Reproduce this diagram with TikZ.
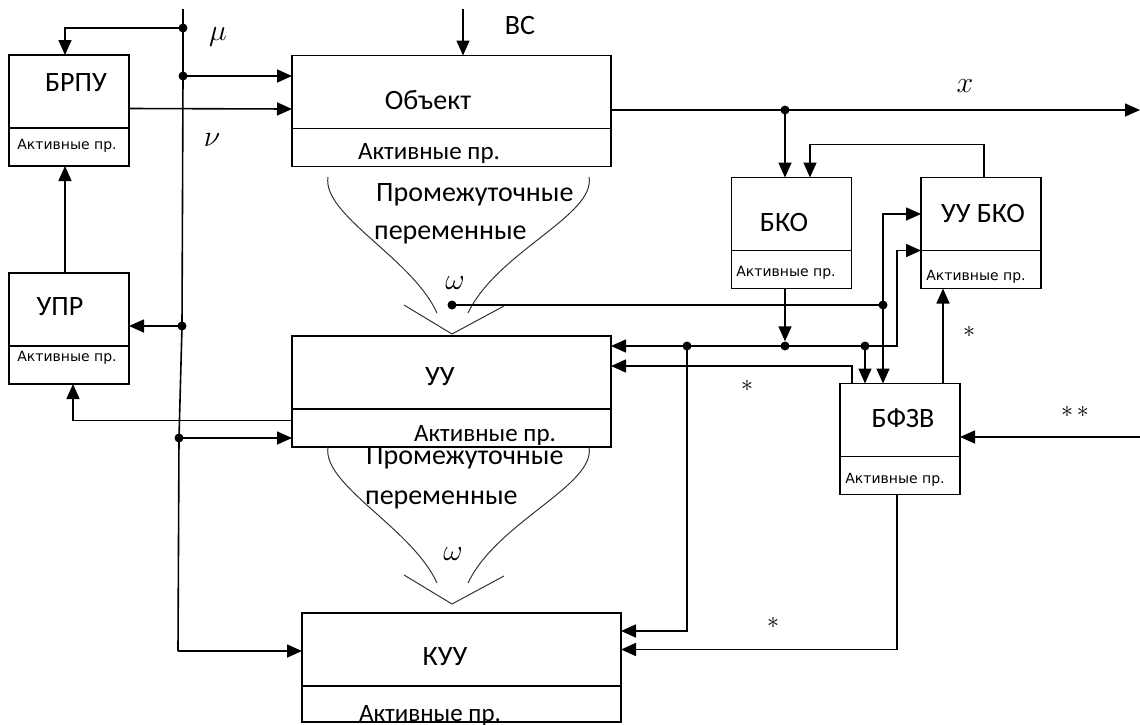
\RequirePackage{fix-cm}
\documentclass[tikz,border=0pt]{standalone}
\usepackage{fontspec}
\setmainfont{Carlito}
\newfontfamily\actfont{DejaVu Sans}
\usetikzlibrary{arrows.meta, positioning}
\tikzset{
  % Block parts
  topbox/.style={rectangle, draw, line width=1.5pt, inner sep=0pt, outer sep=0pt, minimum height=73pt},
  actbox/.style={rectangle, draw, line width=1.5pt, inner sep=0pt, outer sep=0pt, minimum height=38pt},
  smallblk/.style={minimum width=120pt},
  bigblk/.style={minimum width=319pt},
  % Labels
  blocklabel/.style={font=\fontsize{28}{30}\selectfont, inner sep=0pt},
  actlabel/.style={font=\fontsize{25}{28}\selectfont, inner sep=0pt},
  actsmall/.style={font=\actfont\fontsize{14}{16}\selectfont, inner sep=0pt},
  varlabel/.style={font=\fontsize{28}{32}\selectfont, inner sep=0pt, anchor=west},
  siglabel/.style={font=\fontsize{30}{34}\selectfont, inner sep=0pt},
  starlabel/.style={font=\fontsize{24}{28}\selectfont, inner sep=0pt},
  % Connectors
  wire/.style={line width=1.6pt},
  arr/.style={wire, -{Triangle[length=15pt, width=13pt]}},
  junction/.style={circle, fill, inner sep=0pt, minimum size=9pt},
  funnel/.style={line width=1pt, black!80},
}

\begin{document}
\begin{tikzpicture}[x=1pt, y=-1pt]
  \useasboundingbox (0,0) rectangle (1140,724);

  % --- BLOCKS ---
  \node[topbox, smallblk] (brpu) at (69,91.5) {};
  \node[actbox, smallblk, below=0pt of brpu] (brpu-a) {};
  \node[topbox, bigblk] (obj) at (451.5,92) {};
  \node[actbox, bigblk, below=0pt of obj] (obj-a) {};
  \node[topbox, smallblk] (bko) at (791.5,214) {};
  \node[actbox, smallblk, below=0pt of bko] (bko-a) {};
  \node[topbox, smallblk] (uubko) at (981,214) {};
  \node[actbox, smallblk, below=0pt of uubko] (uubko-a) {};
  \node[topbox, smallblk] (upr) at (69,309.5) {};
  \node[actbox, smallblk, below=0pt of upr] (upr-a) {};
  \node[topbox, bigblk] (uu) at (451.5,372.5) {};
  \node[actbox, bigblk, below=0pt of uu] (uu-a) {};
  \node[topbox, smallblk] (bfzv) at (900,420) {};
  \node[actbox, smallblk, below=0pt of bfzv] (bfzv-a) {};
  \node[topbox, bigblk] (kuu) at (461.5,649.5) {};
  \node[actbox, bigblk, minimum height=36pt, below=0pt of kuu] (kuu-a) {};

  % Block texts
  \node[blocklabel] (brpu-t) at (76,83) {БРПУ};
  \node[actsmall] (brpu-l) at (67,146) {Активные пр.};
  \node[blocklabel] (obj-t) at (428,100) {Объект};
  \node[actlabel] (obj-l) at (429,153) {Активные пр.};
  \node[blocklabel] (bko-t) at (784,223) {БКО};
  \node[actsmall] (bko-l) at (786,273) {Активные пр.};
  \node[blocklabel] (uubko-t) at (983,214) {УУ БКО};
  \node[actsmall] (uubko-l) at (976,277) {Активные пр.};
  \node[blocklabel] (upr-t) at (60,307) {УПР};
  \node[actsmall] (upr-l) at (67,358) {Активные пр.};
  \node[blocklabel] (uu-t) at (440,377) {УУ};
  \node[actlabel] (uu-l) at (485,435) {Активные пр.};
  \node[blocklabel] (bfzv-t) at (903,418) {БФЗВ};
  \node[actsmall] (bfzv-l) at (895,480) {Активные пр.};
  \node[blocklabel] (kuu-t) at (445,657) {КУУ};
  \node[actlabel] (kuu-l) at (430,715) {Активные пр.};

  % --- FUNNELS ---
  \foreach \dy in {0,270} {
    \begin{scope}[shift={(0,\dy)}]
      \draw[funnel] (328,177) .. controls (322,215) and (412,258) .. (437,313);
      \draw[funnel] (589,177) .. controls (596,215) and (497,252) .. (468,313);
      \draw[funnel] (404,305) -- (452,334) -- (504,306);
    \end{scope}
  }
  \node[varlabel] (pv1) at (376,195) {Промежуточные};
  \node[varlabel] (pv2) at (374,235) {переменные};
  \node[varlabel] (pv3) at (366,458) {Промежуточные};
  \node[varlabel] (pv4) at (365,500) {переменные};

  % --- SIGNAL LABELS ---
  \node[siglabel] (mu) at (218,37) {$\mu$};
  \node[siglabel] (nu) at (212,140) {$\nu$};
  \node[blocklabel] (vs-l) at (520,26) {ВС};
  \node[siglabel] (x-l) at (965,86) {$x$};
  \node[siglabel] (w1) at (455,283) {$\omega$};
  \node[siglabel] (w2) at (453,554) {$\omega$};
  \node[starlabel] (s1) at (747,386) {$\ast$};
  \node[starlabel] (s2) at (969,332) {$\ast$};
  \node[starlabel] (s3) at (1075,412) {$\ast\,\ast$};
  \node[starlabel] (s4) at (773,623) {$\ast$};

  % --- JUNCTIONS ---
  \node[junction] (d1) at (183,28) {};
  \node[junction] (d2) at (183,76) {};
  \node[junction] (d3) at (182,326) {};
  \node[junction] (d4) at (179,438) {};
  \node[junction] (dx) at (785,110) {};
  \node[junction] (dw) at (452,305) {};
  \node[junction] (dw2) at (883,305) {};
  \node[junction] (db) at (785,346) {};
  \node[junction] (dl) at (687,346) {};
  \node[junction] (dr) at (865,346) {};
  \coordinate (mutop) at (183,9);
  \coordinate (mubot) at (178,651);
  \coordinate (vs) at (463,9);
  \coordinate (xend) at (1140,110);
  \coordinate (ss) at (1140,437);

  % --- CONNECTORS ---
  \draw[wire] (mutop) -- (d1.center) -- (d2.center) -- (d3.center) -- (d4.center) -- (mubot);
  \draw[arr] (d1.center) -| ([xshift=-4pt]brpu.north);
  \draw[arr] (d2.center) -- (d2.center -| obj.west);
  \draw[arr] ([yshift=-17pt]brpu.east) -- ([yshift=-17pt]obj.west);
  \draw[arr] (vs) -- (vs |- obj.north);
  \draw[arr] ([yshift=-18pt]obj.east) -- (xend);
  \draw[arr] (dx.center) -- (dx.center |- bko.north);
  \draw[arr] ([xshift=3pt]uubko.north) -- ++(0,-33) -| ([xshift=18.5pt]bko.north);
  \draw[arr] ([xshift=-4pt]upr.north) -- ([xshift=-4pt]brpu-a.south);
  \draw[arr] (d3.center) -- (d3.center -| upr.east);
  \draw[arr] ([yshift=7.5pt]uu-a.west) -| ([xshift=4pt]upr-a.south);
  \draw[arr] (d4.center) -- (d4.center -| uu-a.west);
  \draw[arr] (mubot) -- (mubot -| kuu.west);
  \draw[wire] (dw.center) -- (dw2.center);
  \draw[arr] (dw2.center) |- (uubko.west);
  \draw[arr] (dw2.center) -- (dw2.center |- bfzv.north);
  \draw[arr] (db |- bko-a.south) -- (db.north);
  \draw[arr] (db.center) -- (db.center -| uu.east);
  \draw[arr] (db.center) -- ++(112,0) |- (uubko-a.north west);
  \draw[arr] (dr.center) -- (dr.center |- bfzv.north);
  \draw[arr] ([xshift=12pt]bfzv.north west) |- ([yshift=6.5pt]uu.east);
  \draw[arr] ([xshift=-38pt]uubko-a.south |- bfzv.north) -- ([xshift=-38pt]uubko-a.south);
  \draw[arr] (ss) -- (ss -| bfzv.east);
  \draw[arr] ([xshift=-3pt]bfzv-a.south) |- (kuu.east);
  \draw[arr] (dl.center) |- ([yshift=18.5pt]kuu.east);
\end{tikzpicture}
\end{document}
